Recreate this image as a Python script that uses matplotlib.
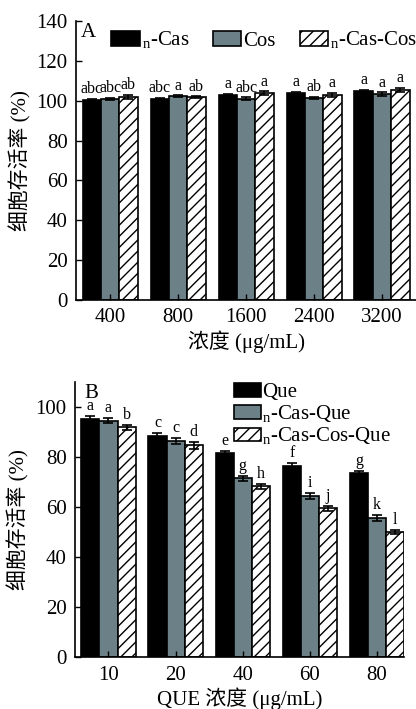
import numpy as np
import matplotlib
matplotlib.use("Agg")
import matplotlib.pyplot as plt

plt.rcParams['font.family'] = ['Liberation Serif', 'Noto Sans CJK SC']
plt.rcParams['mathtext.fontset'] = 'custom'
plt.rcParams['mathtext.rm'] = 'Liberation Serif'
plt.rcParams['hatch.linewidth'] = 1.0

SUB_N = r'$_{\mathrm{n}}$'

# 面板 A 数据
conc_a = ['400', '800', '1600', '2400', '3200']
names_a = [SUB_N + '-Cas', 'Cos', SUB_N + '-Cas-Cos']
vals_a = [[100.5, 101.0, 103.0, 104.0, 105.0],
          [101.0, 102.5, 101.0, 101.5, 103.5],
          [102.0, 102.0, 104.0, 103.0, 105.5]]
errs_a = [[0.6, 0.5, 0.6, 0.5, 0.7],
          [0.5, 0.4, 0.7, 0.7, 0.9],
          [1.2, 0.4, 0.8, 1.2, 1.2]]
letters_a = [['abc', 'abc', 'a', 'a', 'a'],
             ['abc', 'a', 'abc', 'ab', 'a'],
             ['ab', 'ab', 'a', 'a', 'a']]

# 面板 B 数据
conc_b = ['10', '20', '40', '60', '80']
names_b = ['Que', SUB_N + '-Cas-Que', SUB_N + '-Cas-Cos-Que']
vals_b = [[95.3, 88.5, 81.5, 76.4, 73.5],
          [94.5, 86.5, 71.5, 64.5, 55.7],
          [91.9, 84.8, 68.4, 59.6, 49.9]]
errs_b = [[1.0, 1.1, 0.9, 1.2, 0.8],
          [1.0, 1.3, 1.1, 1.2, 1.2],
          [1.1, 1.4, 1.0, 1.0, 0.8]]
letters_b = [['a', 'c', 'e', 'f', 'g'],
             ['a', 'c', 'g', 'i', 'k'],
             ['b', 'd', 'h', 'j', 'l']]

colors = ['black', '#6b8187', 'white']
hatches = [None, None, '///']
width = 0.27
fs = 15


def draw(ax, cats, names, vals, errs, letters):
    x = np.arange(len(cats))
    for i in range(3):
        pos = x + (i - 1) * width
        ax.bar(pos, vals[i], width, color=colors[i], edgecolor='black',
               linewidth=1.2, hatch=hatches[i], label=names[i],
               yerr=errs[i], capsize=3.5,
               error_kw=dict(elinewidth=1.2, capthick=1.2, ecolor='black'))
        for p, v, e, t in zip(pos, vals[i], errs[i], letters[i]):
            ax.text(p, v + e + 0.8, t, ha='center', va='bottom', fontsize=11.5)
    ax.set_xticks(x)
    ax.set_xticklabels(cats)
    ax.spines['top'].set_visible(False)
    ax.spines['right'].set_visible(False)
    ax.spines['left'].set_linewidth(1.2)
    ax.spines['bottom'].set_linewidth(1.2)
    ax.tick_params(direction='in', labelsize=fs, pad=6, width=1.0, length=4)
    ax.set_ylabel('细胞存活率 (%)', fontsize=fs, labelpad=4)


fig = plt.figure(figsize=(4.16, 7.09), dpi=100)

ax1 = fig.add_axes([0.183, 0.577, 0.817, 0.393])
draw(ax1, conc_a, names_a, vals_a, errs_a, letters_a)
ax1.set_xlim(-0.5, 4.5)
ax1.set_ylim(0, 140)
ax1.set_yticks(range(0, 141, 20))
ax1.set_xlabel('浓度 (μg/mL)', fontsize=fs, labelpad=2)
ax1.text(0.015, 0.995, 'A', transform=ax1.transAxes, fontsize=fs,
         ha='left', va='top')
ax1.legend(loc='upper left', bbox_to_anchor=(0.268, 0.958),
           bbox_transform=fig.transFigure, ncol=3, frameon=False,
           fontsize=fs, handlelength=1.35, handleheight=0.7,
           handletextpad=0.1, columnspacing=1.15, borderpad=0,
           borderaxespad=0)

ax2 = fig.add_axes([0.180, 0.073, 0.791, 0.388])
draw(ax2, conc_b, names_b, vals_b, errs_b, letters_b)
ax2.set_xlim(-0.5, 4.4)
ax2.set_ylim(0, 110)
ax2.set_yticks(range(0, 101, 20))
ax2.set_xlabel('QUE 浓度 (μg/mL)', fontsize=fs, labelpad=2)
ax2.text(0.03, 0.995, 'B', transform=ax2.transAxes, fontsize=fs,
         ha='left', va='top')
ax2.legend(loc='upper left', bbox_to_anchor=(0.562, 0.46),
           bbox_transform=fig.transFigure, ncol=1, frameon=False,
           fontsize=fs, handlelength=1.3, handleheight=0.65,
           handletextpad=0.05, labelspacing=0.05, borderpad=0,
           borderaxespad=0)

fig.savefig('out.png', dpi=100)
